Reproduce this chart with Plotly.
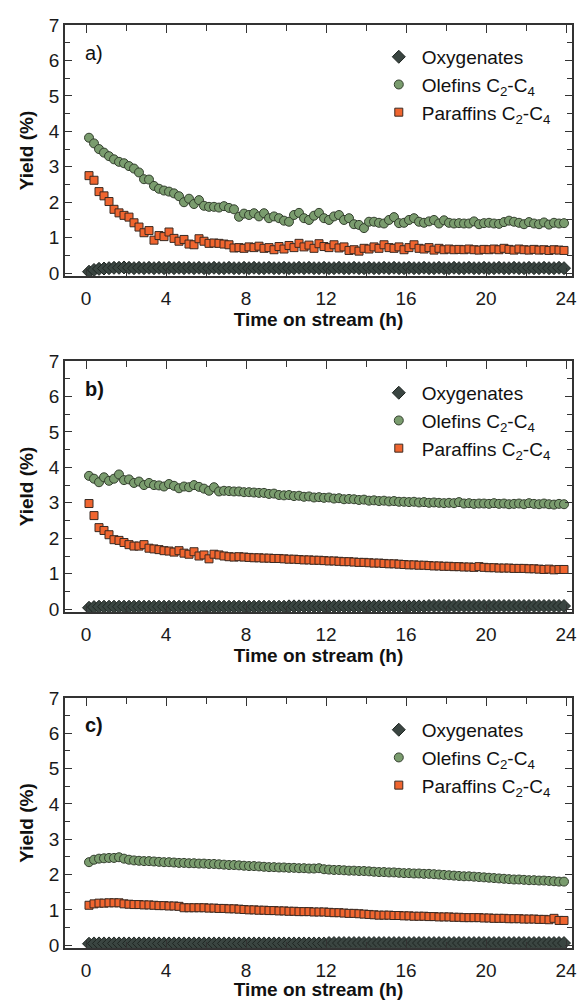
import plotly.graph_objects as go

TIME_H = [0.15, 0.40, 0.65, 0.90, 1.15, 1.40, 1.65, 1.90, 2.15, 2.40, 2.65, 2.90,
          3.15, 3.40, 3.65, 3.90, 4.15, 4.40, 4.65, 4.90, 5.15, 5.40, 5.65, 5.90,
          6.15, 6.40, 6.65, 6.90, 7.15, 7.40, 7.65, 7.90, 8.15, 8.40, 8.65, 8.90,
          9.15, 9.40, 9.65, 9.90, 10.15, 10.40, 10.65, 10.90, 11.15, 11.40, 11.65, 11.90,
          12.15, 12.40, 12.65, 12.90, 13.15, 13.40, 13.65, 13.90, 14.15, 14.40, 14.65, 14.90,
          15.15, 15.40, 15.65, 15.90, 16.15, 16.40, 16.65, 16.90, 17.15, 17.40, 17.65, 17.90,
          18.15, 18.40, 18.65, 18.90, 19.15, 19.40, 19.65, 19.90, 20.15, 20.40, 20.65, 20.90,
          21.15, 21.40, 21.65, 21.90, 22.15, 22.40, 22.65, 22.90, 23.15, 23.40, 23.65, 23.90]

# ---- panel a ----
OXY_A = [0.04, 0.09, 0.12, 0.13, 0.14, 0.15, 0.15, 0.16, 0.15, 0.14, 0.15, 0.14,
         0.15, 0.14, 0.15, 0.14, 0.15, 0.14, 0.15, 0.14, 0.15, 0.14, 0.15, 0.14,
         0.14, 0.15, 0.14, 0.14, 0.15, 0.14, 0.14, 0.15, 0.14, 0.15, 0.14, 0.14,
         0.15, 0.14, 0.14, 0.15, 0.14, 0.14, 0.15, 0.14, 0.15, 0.14, 0.14, 0.15,
         0.14, 0.14, 0.15, 0.14, 0.14, 0.15, 0.14, 0.14, 0.15, 0.14, 0.14, 0.15,
         0.14, 0.15, 0.14, 0.14, 0.15, 0.14, 0.14, 0.15, 0.14, 0.14, 0.15, 0.14,
         0.14, 0.15, 0.14, 0.14, 0.15, 0.14, 0.14, 0.15, 0.14, 0.14, 0.15, 0.14,
         0.14, 0.15, 0.14, 0.14, 0.15, 0.14, 0.14, 0.15, 0.14, 0.14, 0.15, 0.14]
OLE_A = [3.82, 3.66, 3.50, 3.40, 3.30, 3.21, 3.14, 3.10, 3.02, 2.95, 2.84, 2.65,
         2.64, 2.46, 2.38, 2.33, 2.30, 2.25, 2.17, 2.00, 2.10, 1.95, 2.06, 1.90,
         1.87, 1.87, 1.85, 1.89, 1.84, 1.80, 1.59, 1.68, 1.64, 1.69, 1.60, 1.69,
         1.55, 1.60, 1.55, 1.48, 1.45, 1.64, 1.70, 1.55, 1.50, 1.62, 1.70, 1.55,
         1.50, 1.60, 1.64, 1.50, 1.55, 1.38, 1.36, 1.27, 1.45, 1.45, 1.42, 1.40,
         1.50, 1.58, 1.41, 1.42, 1.50, 1.55, 1.45, 1.42, 1.46, 1.50, 1.40, 1.49,
         1.42, 1.40, 1.41, 1.40, 1.40, 1.46, 1.38, 1.41, 1.42, 1.40, 1.39, 1.44,
         1.48, 1.45, 1.42, 1.38, 1.44, 1.40, 1.38, 1.43, 1.37, 1.42, 1.40, 1.41]
PAR_A = [2.75, 2.62, 2.30, 2.18, 2.02, 1.80, 1.70, 1.63, 1.58, 1.42, 1.30, 1.14,
         1.20, 0.93, 1.06, 1.03, 1.16, 0.98, 0.90, 0.95, 0.82, 0.80, 0.97, 0.90,
         0.84, 0.85, 0.84, 0.82, 0.80, 0.71, 0.72, 0.70, 0.74, 0.72, 0.76, 0.70,
         0.72, 0.66, 0.75, 0.68, 0.78, 0.72, 0.84, 0.74, 0.79, 0.70, 0.83, 0.75,
         0.72, 0.80, 0.71, 0.74, 0.64, 0.66, 0.62, 0.70, 0.68, 0.74, 0.70, 0.80,
         0.72, 0.70, 0.74, 0.66, 0.72, 0.80, 0.70, 0.68, 0.72, 0.65, 0.70, 0.66,
         0.68, 0.66, 0.67, 0.66, 0.68, 0.66, 0.65, 0.67, 0.66, 0.68, 0.66, 0.70,
         0.67, 0.65, 0.68, 0.66, 0.65, 0.67, 0.65, 0.66, 0.64, 0.66, 0.65, 0.64]

# ---- panel b ----
OXY_B = [0.04, 0.06, 0.07, 0.07, 0.07, 0.07, 0.07, 0.07, 0.07, 0.07, 0.07, 0.07,
         0.07, 0.07, 0.07, 0.07, 0.07, 0.07, 0.07, 0.07, 0.07, 0.07, 0.07, 0.07,
         0.07, 0.07, 0.07, 0.07, 0.07, 0.07, 0.07, 0.07, 0.07, 0.07, 0.07, 0.07,
         0.07, 0.07, 0.07, 0.07, 0.08, 0.08, 0.08, 0.08, 0.08, 0.08, 0.08, 0.08,
         0.08, 0.08, 0.08, 0.08, 0.08, 0.08, 0.08, 0.08, 0.08, 0.08, 0.08, 0.08,
         0.08, 0.08, 0.08, 0.08, 0.08, 0.08, 0.08, 0.08, 0.09, 0.09, 0.09, 0.09,
         0.09, 0.09, 0.09, 0.09, 0.09, 0.09, 0.09, 0.09, 0.09, 0.09, 0.09, 0.09,
         0.09, 0.09, 0.09, 0.09, 0.09, 0.09, 0.09, 0.09, 0.09, 0.09, 0.09, 0.09]
OLE_B = [3.76, 3.68, 3.58, 3.72, 3.62, 3.68, 3.80, 3.64, 3.66, 3.56, 3.60, 3.50,
         3.56, 3.50, 3.49, 3.46, 3.53, 3.48, 3.41, 3.46, 3.44, 3.50, 3.45, 3.40,
         3.34, 3.44, 3.32, 3.34, 3.33, 3.32, 3.32, 3.30, 3.30, 3.29, 3.28, 3.28,
         3.25, 3.26, 3.22, 3.21, 3.22, 3.19, 3.20, 3.17, 3.18, 3.15, 3.16, 3.14,
         3.15, 3.12, 3.13, 3.10, 3.11, 3.10, 3.08, 3.09, 3.06, 3.07, 3.05, 3.06,
         3.04, 3.05, 3.03, 3.03, 3.02, 3.03, 3.01, 3.02, 3.00, 3.01, 3.00, 2.99,
         3.00, 2.99, 3.02, 2.98, 2.99, 2.97, 2.98, 2.98, 2.97, 2.99, 2.97, 2.98,
         2.96, 2.97, 2.98, 2.96, 2.99, 2.97, 2.96, 2.98, 2.96, 2.95, 2.97, 2.96]
PAR_B = [2.98, 2.64, 2.30, 2.22, 2.10, 1.96, 1.94, 1.88, 1.82, 1.78, 1.78, 1.82,
         1.72, 1.70, 1.68, 1.65, 1.64, 1.61, 1.65, 1.58, 1.55, 1.62, 1.50, 1.53,
         1.42, 1.55, 1.53, 1.50, 1.48, 1.47, 1.48, 1.47, 1.46, 1.45, 1.45, 1.44,
         1.44, 1.43, 1.43, 1.42, 1.41, 1.41, 1.40, 1.39, 1.39, 1.38, 1.38, 1.37,
         1.36, 1.36, 1.35, 1.34, 1.34, 1.33, 1.32, 1.32, 1.31, 1.30, 1.30, 1.29,
         1.28, 1.28, 1.27, 1.26, 1.25, 1.25, 1.24, 1.24, 1.23, 1.22, 1.22, 1.21,
         1.21, 1.20, 1.20, 1.19, 1.19, 1.18, 1.20, 1.18, 1.17, 1.17, 1.16, 1.16,
         1.16, 1.15, 1.15, 1.15, 1.14, 1.14, 1.13, 1.12, 1.13, 1.11, 1.12, 1.12]

# ---- panel c ----
OXY_C = [0.04, 0.05, 0.05, 0.05, 0.05, 0.05, 0.05, 0.05, 0.05, 0.05, 0.05, 0.05,
         0.05, 0.05, 0.05, 0.05, 0.05, 0.05, 0.05, 0.05, 0.05, 0.05, 0.05, 0.05,
         0.05, 0.05, 0.05, 0.05, 0.05, 0.05, 0.05, 0.05, 0.05, 0.05, 0.05, 0.05,
         0.05, 0.05, 0.05, 0.05, 0.05, 0.05, 0.05, 0.05, 0.05, 0.05, 0.05, 0.05,
         0.06, 0.06, 0.06, 0.06, 0.06, 0.06, 0.06, 0.06, 0.06, 0.06, 0.06, 0.06,
         0.06, 0.06, 0.06, 0.06, 0.06, 0.06, 0.06, 0.06, 0.06, 0.06, 0.06, 0.06,
         0.06, 0.06, 0.06, 0.06, 0.06, 0.06, 0.06, 0.06, 0.06, 0.06, 0.06, 0.06,
         0.06, 0.06, 0.06, 0.06, 0.06, 0.06, 0.06, 0.06, 0.06, 0.06, 0.06, 0.06]
OLE_C = [2.35, 2.42, 2.45, 2.46, 2.47, 2.47, 2.49, 2.45, 2.42, 2.40, 2.39, 2.38,
         2.38, 2.37, 2.36, 2.35, 2.35, 2.34, 2.33, 2.33, 2.32, 2.32, 2.31, 2.31,
         2.30, 2.30, 2.29, 2.28, 2.27, 2.27, 2.26, 2.25, 2.24, 2.24, 2.23, 2.22,
         2.21, 2.21, 2.20, 2.20, 2.19, 2.19, 2.18, 2.18, 2.17, 2.17, 2.18, 2.15,
         2.14, 2.13, 2.13, 2.12, 2.11, 2.11, 2.10, 2.10, 2.09, 2.08, 2.07, 2.07,
         2.06, 2.06, 2.05, 2.04, 2.04, 2.03, 2.03, 2.02, 2.02, 2.01, 2.00, 1.99,
         1.98, 1.97, 1.96, 1.95, 1.95, 1.94, 1.93, 1.92, 1.91, 1.90, 1.89, 1.88,
         1.87, 1.86, 1.86, 1.85, 1.84, 1.84, 1.83, 1.83, 1.82, 1.81, 1.80, 1.80]
PAR_C = [1.13, 1.17, 1.19, 1.19, 1.20, 1.20, 1.20, 1.17, 1.16, 1.15, 1.15, 1.14,
         1.14, 1.13, 1.12, 1.12, 1.11, 1.11, 1.10, 1.06, 1.06, 1.06, 1.06, 1.06,
         1.05, 1.05, 1.04, 1.04, 1.03, 1.03, 1.02, 1.01, 1.00, 1.00, 0.99, 0.99,
         0.98, 0.98, 0.97, 0.97, 0.96, 0.96, 0.95, 0.95, 0.95, 0.94, 0.94, 0.94,
         0.93, 0.92, 0.92, 0.91, 0.90, 0.90, 0.89, 0.88, 0.87, 0.86, 0.85, 0.85,
         0.85, 0.84, 0.84, 0.83, 0.83, 0.82, 0.82, 0.82, 0.81, 0.81, 0.80, 0.80,
         0.80, 0.79, 0.79, 0.78, 0.78, 0.78, 0.78, 0.77, 0.77, 0.76, 0.76, 0.76,
         0.75, 0.75, 0.75, 0.74, 0.74, 0.74, 0.73, 0.73, 0.72, 0.76, 0.70, 0.70]

SERIES_NAMES = ["Oxygenates", "Olefins C<sub>2</sub>-C<sub>4</sub>",
                "Paraffins C<sub>2</sub>-C<sub>4</sub>"]
PANEL_LABELS = ["a)", "<b>b)</b>", "<b>c)</b>"]
X_TICKS = [0, 4, 8, 12, 16, 20, 24]
Y_TICKS = [0, 1, 2, 3, 4, 5, 6, 7]

panels = [(OXY_A, OLE_A, PAR_A), (OXY_B, OLE_B, PAR_B), (OXY_C, OLE_C, PAR_C)]

FONT = "Liberation Sans, Arial, sans-serif"
OUT = "#333333"
styles = [
    dict(symbol="diamond", size=10, color="#3a4541", line=dict(color="#1f2622", width=1)),
    dict(symbol="circle", size=9, color="#7a9c6e", line=dict(color="#34402f", width=1)),
    dict(symbol="square", size=8, color="#f0652f", line=dict(color="#3a2a22", width=1)),
]

# vertical domains (paper) for the three panels
domains = [(0.7281, 1.0), (0.3640, 0.6360), (0.0, 0.2709)]

fig = go.Figure()
legend_ids = ["legend", "legend2", "legend3"]
for p, (series, dom) in enumerate(zip(panels, domains)):
    xa = "x" if p == 0 else f"x{p+1}"
    ya = "y" if p == 0 else f"y{p+1}"
    for s_idx, (vals, name, st) in enumerate(zip(series, SERIES_NAMES, styles)):
        fig.add_trace(go.Scatter(
            x=TIME_H, y=vals, mode="markers", name=name,
            marker=dict(symbol=st["symbol"], size=st["size"], color=st["color"],
                        line=st["line"]),
            xaxis=xa, yaxis=ya, legend=legend_ids[p], showlegend=True,
        ))
    axis_common = dict(showline=True, linecolor=OUT, linewidth=1.5, mirror="ticks",
                       ticks="inside", tickcolor=OUT, tickwidth=1.2,
                       showgrid=False, zeroline=False, automargin=False,
                       tickfont=dict(family=FONT, size=19, color="#1a1a1a"))
    xkey = "xaxis" if p == 0 else f"xaxis{p+1}"
    ykey = "yaxis" if p == 0 else f"yaxis{p+1}"
    fig.update_layout({
        xkey: dict(axis_common, range=[-1.05, 24.3], tickvals=X_TICKS, ticklen=8,
                   ticklabelstandoff=4,
                   minor=dict(dtick=2, tick0=0, ticklen=6, ticks="inside", tickcolor=OUT),
                   anchor=ya, domain=[0, 1],
                   title=dict(text="Time on stream (h)", standoff=2,
                              font=dict(family=FONT, size=19, weight="bold", color="#111"))),
        ykey: dict(axis_common, range=[-0.08, 7], tickvals=Y_TICKS, ticklen=7,
                   minor=dict(dtick=0.5, tick0=0, ticklen=5, ticks="inside", tickcolor=OUT),
                   anchor=xa, domain=list(dom),
                   title=dict(text="Yield (%)", standoff=10,
                              font=dict(family=FONT, size=19, weight="bold", color="#111"))),
    })
    leg = dict(x=0.613, y=dom[1] - 0.014, xanchor="left", yanchor="top",
               bgcolor="rgba(0,0,0,0)", borderwidth=0, itemwidth=36,
               font=dict(family=FONT, size=19, color="#111"), tracegroupgap=0)
    fig.update_layout({legend_ids[p]: leg})
    fig.add_annotation(text=PANEL_LABELS[p], xref=f"{xa} domain", yref=f"{ya} domain",
                       x=0.035, y=0.89, xanchor="left", yanchor="middle", showarrow=False,
                       font=dict(family=FONT, size=20, color="#111"))

fig.update_layout(width=583, height=1000, margin=dict(l=65, r=11, t=25, b=52),
                  paper_bgcolor="white", plot_bgcolor="white")
fig.write_html("out.html")
